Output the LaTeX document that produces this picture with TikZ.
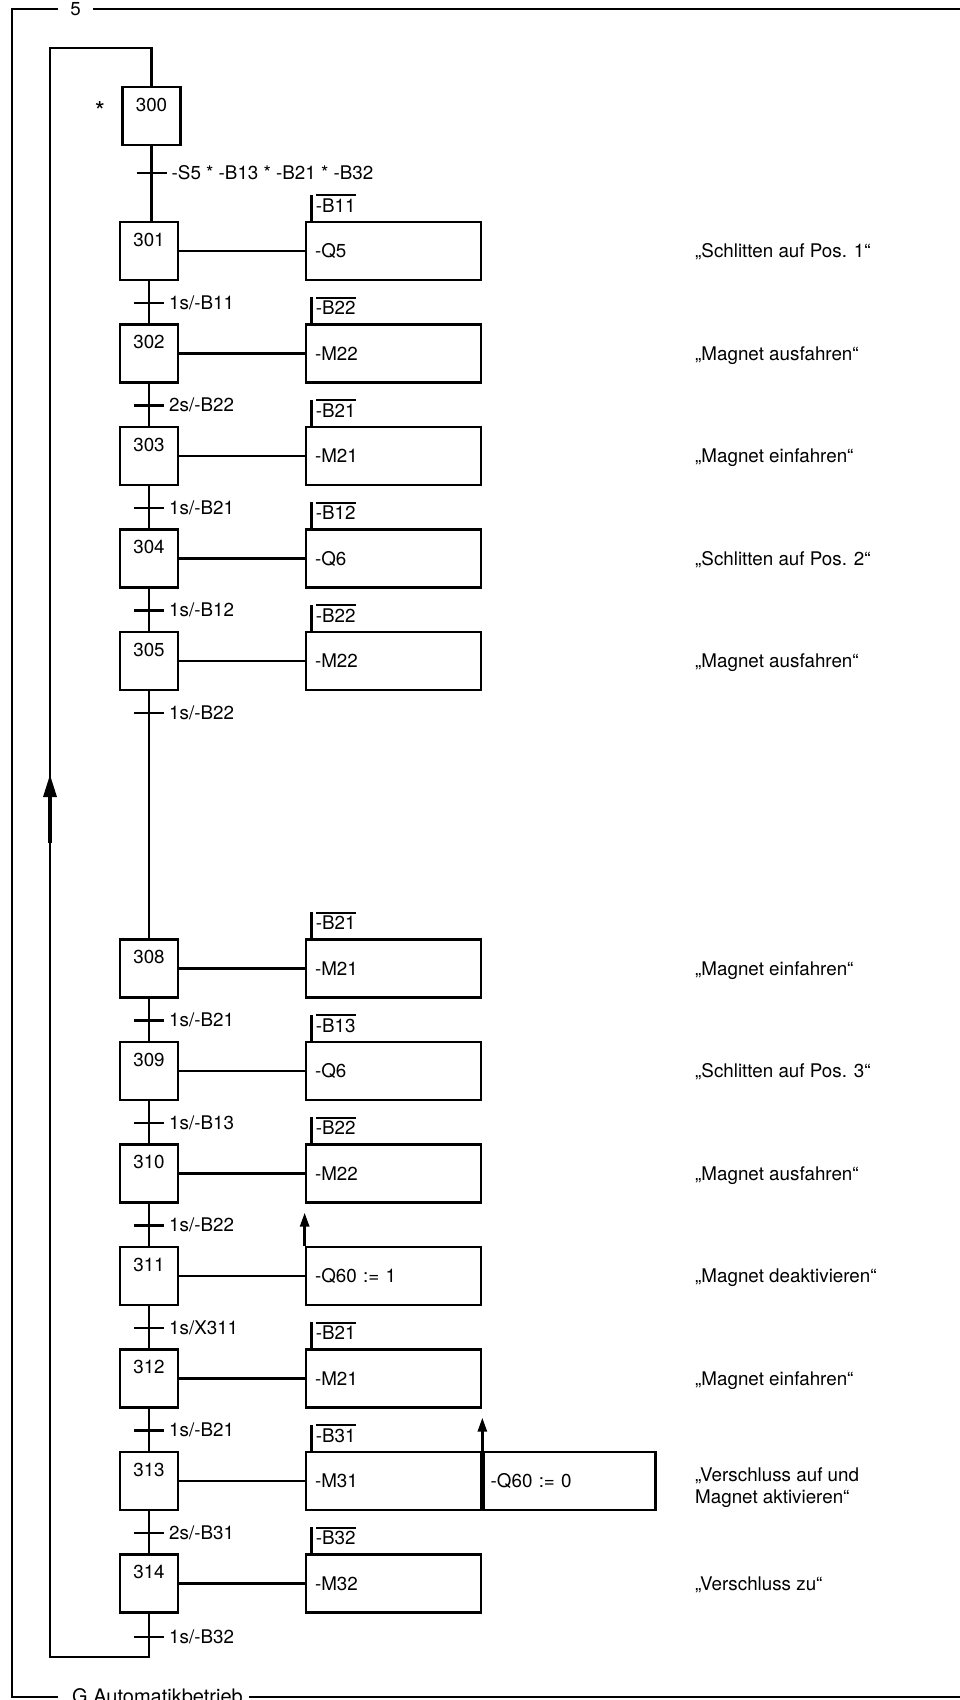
\documentclass[tikz,border=0pt]{standalone}
\usepackage{fontspec}
\setmainfont{TeX Gyre Heros}
\usetikzlibrary{arrows.meta,calc}
\newcommand{\ovbar}[1]{\vbox{\hrule height 1.7pt\kern 2.4pt\hbox{#1}}}
\begin{document}
\begin{tikzpicture}[x=1pt,y=-1pt,
  font=\fontsize{18.8}{22}\selectfont,
  ln/.style={line width=2.7pt},
  stepbox/.style={draw, line width=2.7pt, minimum width=58pt, minimum height=58pt,
    inner sep=0pt, text height=24pt, text depth=34pt},
  actbox/.style={draw, line width=2.7pt, minimum height=58pt, text width=157pt,
    inner xsep=9pt, inner ysep=0pt, align=left, text height=13pt, text depth=0pt},
  actboxb/.style={draw, line width=2.7pt, minimum height=58pt, text width=158pt,
    inner xsep=7pt, inner ysep=0pt, align=left, text height=13pt, text depth=0pt},
  condlabel/.style={inner sep=0pt, anchor=base west},
  tlabel/.style={inner sep=0pt, anchor=west, text height=13pt, text depth=0pt},
  comment/.style={inner sep=0pt, anchor=west, text height=13pt, text depth=0pt},
  arr/.style={-{Triangle[length=14pt,width=9pt]}}
]
\useasboundingbox (0,0) rectangle (959,1700);

% frame
\node[anchor=base, inner sep=0pt] (f5) at (75.5,15) {5};
\node[anchor=base west, inner sep=0pt, font=\fontsize{20}{24}\selectfont] (fg) at (72,1703) {G Automatikbetrieb};
\draw[ln] (58,9) -- (12,9) -- (12,1697) -- (58,1697);
\draw[ln] (93,9) -- (975,9);
\draw[ln] (249,1697) -- (975,1697);

% initial step
\node[stepbox] (s300) at (151.5,116) {300};
\node[anchor=base, inner sep=0pt, font=\fontsize{26}{26}\selectfont] (star) at (100,120) {*};

% standard steps
\foreach \n/\k/\act/\cnd/\com in {
  301/0/-Q5/-B11/{„Schlitten auf Pos. 1“},
  302/1/-M22/-B22/{„Magnet ausfahren“},
  303/2/-M21/-B21/{„Magnet einfahren“},
  304/3/-Q6/-B12/{„Schlitten auf Pos. 2“},
  305/4/-M22/-B22/{„Magnet ausfahren“},
  308/7/-M21/-B21/{„Magnet einfahren“},
  309/8/-Q6/-B13/{„Schlitten auf Pos. 3“},
  310/9/-M22/-B22/{„Magnet ausfahren“},
  312/11/-M21/-B21/{„Magnet einfahren“},
  313/12/-M31/-B31/{},
  314/13/-M32/-B32/{„Verschluss zu“}}{
  \pgfmathsetmacro\yy{251+102.5*\k}
  \node[stepbox] (s\n) at (149,\yy) {\n};
  \node[actbox] (a\n) at (393.5,\yy) {\act};
  \draw[ln] (s\n) -- (a\n);
  \draw[ln] ([xshift=7pt]a\n.north west) -- ++(0,-26);
  \node[condlabel] (c\n) at ([xshift=11pt,yshift=8.5pt]a\n.north west) {\ovbar{\cnd}};
  \node[comment] (m\n) at (695,\yy) {\com};
}

% step 311
\node[stepbox] (s311) at (149,1276) {311};
\node[actbox] (a311) at (393.5,1276) {-Q60 := 1};
\draw[ln] (s311) -- (a311);
\draw[ln,arr] (a311.north west) -- ++(0,-33);
\node[comment] (m311) at (695,1276) {„Magnet deaktivieren“};

% step 313 extras
\node[actboxb, anchor=west] (b313) at (a313.east) {-Q60 := 0};
\draw[ln,arr] (b313.north west) -- ++(0,-33);
\node[inner sep=0pt, anchor=west, align=left] (m313) at (695,1488) {„Verschluss auf und\\Magnet aktivieren“};

% transitions
\newcommand{\trans}[3]{%
  \draw[ln] (s#1.south) -- (s#2.north);
  \coordinate (t#1) at ($(s#1.south)+(0,21.5)$);
  \draw[ln] ([xshift=-15pt]t#1) -- ([xshift=15pt]t#1);
  \node[tlabel] (l#1) at ([xshift=20pt]t#1) {#3};
}
\draw[ln] (s300.south) -- (s300.south |- s301.north);
\coordinate (t300) at (151.5,173);
\draw[ln] ([xshift=-15pt]t300) -- ([xshift=15pt]t300);
\node[tlabel] (l300) at ([xshift=20pt]t300) {-S5 * -B13 * -B21 * -B32};
\trans{301}{302}{1s/-B11}
\trans{302}{303}{2s/-B22}
\trans{303}{304}{1s/-B21}
\trans{304}{305}{1s/-B12}
\trans{305}{308}{1s/-B22}
\trans{308}{309}{1s/-B21}
\trans{309}{310}{1s/-B13}
\trans{310}{311}{1s/-B22}
\trans{311}{312}{1s/X311}
\trans{312}{313}{1s/-B21}
\trans{313}{314}{2s/-B31}

% last transition and loop back
\coordinate (t314) at (149,1637);
\draw[ln] ([xshift=-15pt]t314) -- ([xshift=15pt]t314);
\node[tlabel] (l314) at ([xshift=20pt]t314) {1s/-B32};
\coordinate (lbr) at (149,1657);
\coordinate (lbl) at (50,1657);
\coordinate (ltl) at (50,48);
\coordinate (ltr) at (151.5,48);
\draw[ln] (s314.south) -- (lbr) -- (lbl) -- (ltl) -- (ltr) -- (s300.north);
\coordinate (la) at (50,775);
\fill (la) -- ++(-7,22) -- ++(14,0) -- cycle;
\draw[line width=3.8pt] ([yshift=-22pt]la) -- ++(0,46);
\end{tikzpicture}
\end{document}
